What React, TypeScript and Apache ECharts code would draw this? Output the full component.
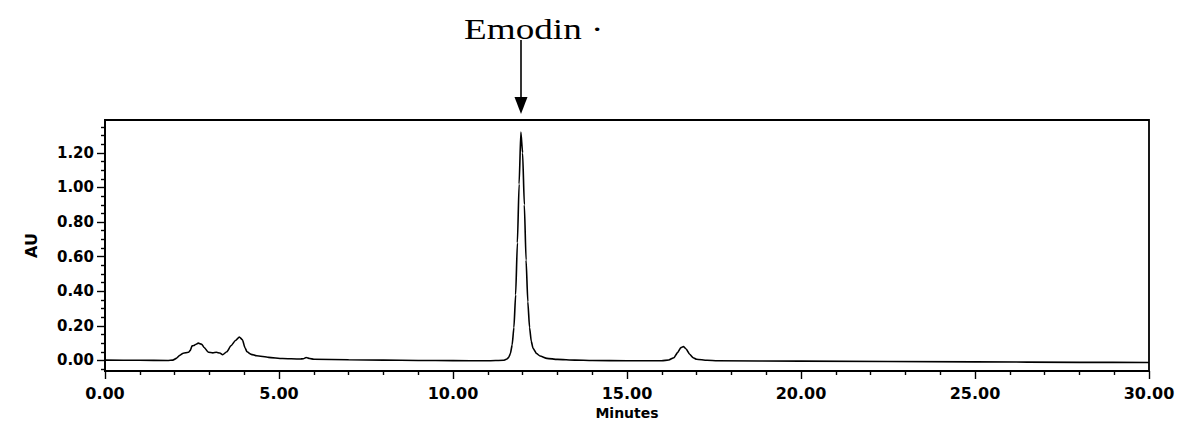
import React, { useEffect, useRef } from "react";
import * as echarts from "echarts";

// Retention time (minutes)
const times = [
  0.0, 1.0, 1.8, 1.95, 2.05, 2.15, 2.25, 2.4, 2.45, 2.5, 2.55, 2.6, 2.68, 2.78, 2.85, 2.97, 3.1, 3.2, 3.3, 3.38,
  3.5, 3.62, 3.75, 3.86, 3.95, 4.02, 4.08, 4.2, 4.36, 4.7, 5.1, 5.6, 5.7, 5.78, 5.88, 6.0, 7.0, 8.0, 9.0, 10.0,
  11.0, 11.45, 11.55, 11.6, 11.65, 11.7, 11.75, 11.8, 11.85, 11.9, 11.95, 12.0, 12.05, 12.1, 12.15, 12.2,
  12.25, 12.3, 12.4, 12.5, 12.7, 13.0, 13.5, 14.0, 15.0, 16.0, 16.2, 16.35, 16.45, 16.55, 16.62, 16.7, 16.8,
  16.9, 17.0, 17.3, 17.6, 20.0, 25.0, 28.0, 30.0,
];
// Absorbance (AU)
const absorbance = [
  0.002, 0.001, 0.0, 0.002, 0.012, 0.03, 0.042, 0.047, 0.058, 0.084, 0.086, 0.092, 0.1, 0.094, 0.075, 0.047,
  0.044, 0.047, 0.043, 0.033, 0.05, 0.085, 0.115, 0.135, 0.12, 0.075, 0.05, 0.035, 0.027, 0.018, 0.011, 0.008,
  0.01, 0.017, 0.011, 0.007, 0.004, 0.002, 0.0, -0.001, -0.002, 0.001, 0.008, 0.018, 0.04, 0.09, 0.19, 0.38,
  0.68, 1.02, 1.32, 1.2, 0.9, 0.58, 0.34, 0.19, 0.11, 0.07, 0.04, 0.026, 0.012, 0.006, 0.002, 0.0, -0.002,
  -0.002, 0.003, 0.016, 0.045, 0.074, 0.08, 0.066, 0.036, 0.016, 0.007, 0.001, -0.002, -0.004, -0.008, -0.011,
  -0.012,
];

const yMajorTicks = [0, 0.2, 0.4, 0.6, 0.8, 1.0, 1.2];
const yMinorTicks = [
  -0.05, 0.05, 0.1, 0.15, 0.25, 0.3, 0.35, 0.45, 0.5, 0.55, 0.65, 0.7, 0.75, 0.85, 0.9, 0.95, 1.05, 1.1, 1.15,
  1.25, 1.3, 1.35,
];
const peakLabel = "Emodin ·";
const peakTime = 11.95;

export default function App() {
  const ref = useRef<HTMLDivElement>(null);
  useEffect(() => {
    const chart = echarts.init(ref.current!, null, { renderer: "svg" });
    const data = times.map((t, i) => [t, absorbance[i]]);
    const yMin = -0.061;
    const yMax = 1.39;
    const black = "#000";
    const axisLine = { show: true, onZero: false, lineStyle: { color: black, width: 1.8 } };
    chart.setOption({
      animation: false,
      backgroundColor: "#fff",
      grid: {
        left: 105,
        right: 33,
        top: 120,
        bottom: 54,
        show: true,
        borderColor: black,
        borderWidth: 1.8,
      },
      xAxis: {
        type: "value",
        min: 0,
        max: 30,
        interval: 5,
        name: "Minutes",
        nameLocation: "middle",
        nameGap: 34,
        nameTextStyle: { color: black, fontFamily: "DejaVu Sans", fontSize: 14, fontWeight: "bold" },
        axisLine,
        axisTick: { show: true, length: 8, lineStyle: { color: black, width: 1.4 } },
        minorTick: { show: true, splitNumber: 5, length: 4, lineStyle: { color: black, width: 1.4 } },
        axisLabel: {
          formatter: (v: number) => v.toFixed(2),
          margin: 14,
          color: black,
          fontFamily: "DejaVu Sans",
          fontWeight: "bold",
          fontSize: 16,
        },
        splitLine: { show: false },
        minorSplitLine: { show: false },
      },
      yAxis: [
        {
          type: "value",
          min: yMin,
          max: yMax,
          position: "left",
          name: "AU",
          nameLocation: "middle",
          nameGap: 66,
          nameTextStyle: { color: black, fontFamily: "DejaVu Sans", fontSize: 16, fontWeight: "bold" },
          axisLine,
          axisTick: { show: true, customValues: yMajorTicks, length: 8, lineStyle: { color: black, width: 1.4 } },
          axisLabel: {
            customValues: yMajorTicks,
            formatter: (v: number) => v.toFixed(2),
            margin: 11,
            color: black,
            fontFamily: "DejaVu Sans",
            fontWeight: "bold",
            fontSize: 15,
          },
          splitLine: { show: false },
        },
        {
          type: "value",
          min: yMin,
          max: yMax,
          position: "left",
          offset: 0,
          axisLine: { show: false },
          axisTick: { show: true, customValues: yMinorTicks, length: 4, lineStyle: { color: black, width: 1.4 } },
          axisLabel: { show: false },
          splitLine: { show: false },
        },
      ],
      series: [
        {
          type: "line",
          data,
          xAxisIndex: 0,
          yAxisIndex: 0,
          showSymbol: false,
          smooth: 0.2,
          smoothMonotone: "x",
          lineStyle: { color: black, width: 1.6 },
        },
      ],
    });

    const pt = chart.convertToPixel({ gridIndex: 0 }, [peakTime, 0]) as number[];
    const ax = Math.round(pt[0]);
    chart.setOption({
      graphic: [
        {
          type: "text",
          x: ax - 57,
          y: 29,
          scaleX: 1.24,
          style: {
            text: peakLabel,
            fill: black,
            font: '30px "Liberation Serif", "Times New Roman", serif',
            textAlign: "left",
            textVerticalAlign: "middle",
          },
        },
        {
          type: "line",
          shape: { x1: ax, y1: 40, x2: ax, y2: 100 },
          style: { stroke: black, lineWidth: 1.6 },
        },
        {
          type: "polygon",
          shape: { points: [[ax - 6.5, 97], [ax + 6.5, 97], [ax, 114]] },
          style: { fill: black },
        },
      ],
    });
    return () => chart.dispose();
  }, []);
  return (
    <div
      ref={ref}
      style={{ position: "fixed", left: 0, top: 0, width: 1182, height: 425, background: "#fff" }}
    />
  );
}
